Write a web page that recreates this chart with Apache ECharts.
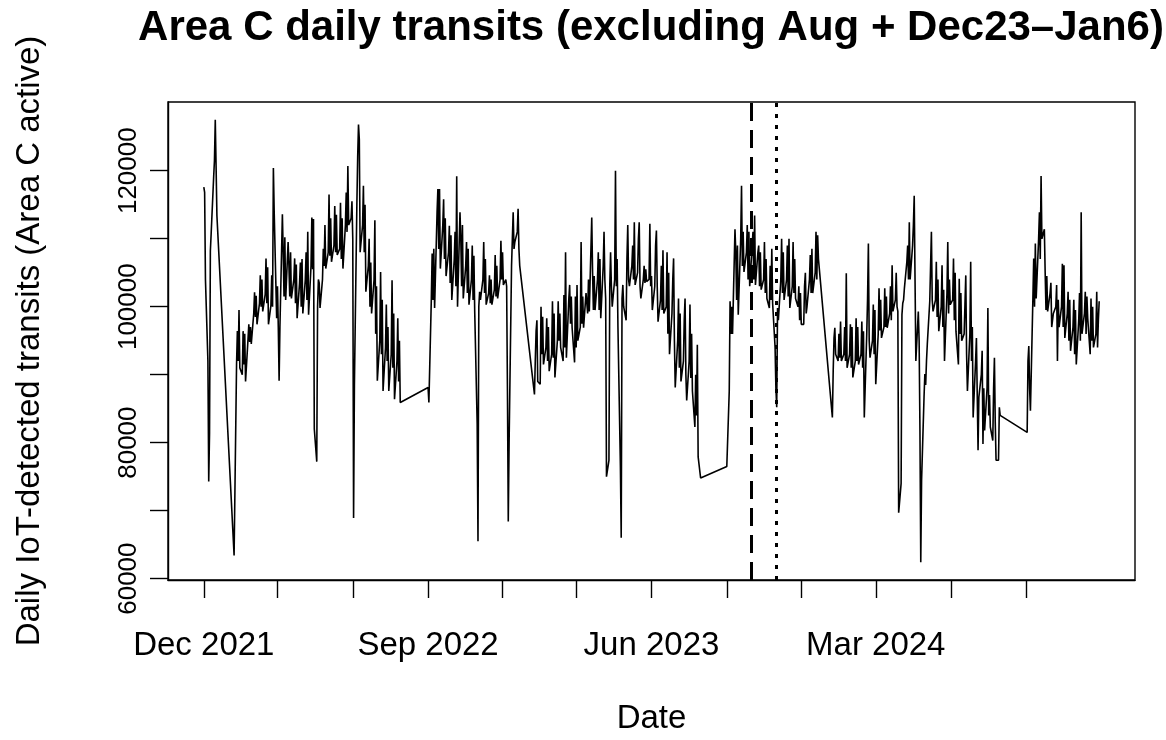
<!DOCTYPE html>
<html>
<head>
<meta charset="utf-8">
<title>Area C daily transits</title>
<script src="https://cdn.jsdelivr.net/npm/echarts@6/dist/echarts.min.js"></script>
<style>
  html, body { margin: 0; padding: 0; background: #ffffff; }
  #chart { width: 1166px; height: 740px; }
</style>
</head>
<body>
<div id="chart"></div>
<script>
// Daily IoT-detected transits (thousands), Area C active weekdays.
// Each run is a contiguous stretch of weekdays; August and Dec 23 - Jan 6 are left out.
const runStarts = ['2021-12-01', '2022-01-07', '2022-09-01', '2023-01-09', '2023-09-01', '2024-01-08', '2024-09-02'];

const run2021Dec = [117.6, 116.8, 104.0, 92.0, 74.3, 81.5, 108.2, 110.8, 119.0, 121.5, 127.5, 120.6, 113.4];

const run2022H1 = [63.4,
  91.5, 96.4, 92.0, 99.5, 91.0,  90.0, 96.4, 91.5, 96.0, 89.0,  95.2, 97.4, 94.8, 97.0, 94.5,
  99.0, 102.1, 98.5, 101.6, 97.4,  100.5, 104.6, 100.0, 104.0, 99.3,  101.8, 107.1, 100.5, 105.8, 97.4,
  100.2, 104.6, 100.0, 120.4, 113.9,  98.3, 103.0, 97.0, 89.1, 97.0,  113.6, 108.0, 101.5, 110.2, 101.0,
  109.5, 106.0, 101.5, 108.0, 101.2,  104.0, 107.1, 100.5, 106.2, 98.3,  103.5, 106.5, 100.0, 107.0, 99.0,
  104.0, 108.0, 101.0, 111.0, 98.8,  106.0, 113.1, 105.5, 112.9, 82.0,  77.2, 100.0, 104.0, 103.5, 99.8,
  104.0, 108.5, 106.0, 112.0, 105.6,  108.0, 116.5, 107.5, 113.0, 106.6,  109.0, 114.8, 108.0, 113.5, 107.6,
  108.5, 115.3, 107.0, 113.0, 105.6,  112.0, 116.8, 111.0, 120.7, 112.0,  113.0, 115.5, 110.0, 68.9, 88.5,
  115.0, 122.0, 126.8, 124.6, 108.0,  112.0, 117.8, 108.0, 115.0, 102.2,  106.0, 110.0, 100.0, 106.5, 99.0,
  104.0, 112.7, 96.0, 103.0, 89.1,  95.0, 105.1, 93.0, 101.0, 87.6,  94.0, 100.3, 92.0, 97.0, 87.6,
  93.0, 103.9, 91.0, 99.0, 86.4,  92.0, 98.3, 89.0, 95.0, 85.9];

const run2022H2 = [88.1, 85.9,
  101.2, 107.8, 101.0, 108.5, 99.8,  113.9, 117.3, 108.5, 117.3, 105.6,  112.0, 115.8, 107.0, 113.0, 104.5,
  108.0, 111.9, 103.5, 110.5, 101.0,  107.0, 111.0, 103.0, 119.2, 100.0,  113.9, 110.0, 103.0, 112.0, 101.2,
  106.0, 109.5, 102.0, 108.5, 100.3,  104.0, 109.0, 101.0, 107.5, 99.3,  82.8, 65.5, 100.0, 102.2, 101.0,
  104.0, 109.5, 102.0, 107.0, 100.3,  102.0, 104.6, 100.5, 104.0, 100.3,  102.5, 107.6, 101.5, 106.0, 101.2,
  104.0, 109.7, 104.0, 108.0, 103.2,  104.0, 103.0, 87.6, 68.4, 80.0,  106.0, 110.0, 113.9, 108.5, 109.5,
  111.0, 114.4, 108.5, 106.0];

const run2023H1 = [
  87.1, 92.0, 96.4, 98.0, 89.0,  88.6, 100.0, 93.0, 98.5, 91.5,  94.0, 98.3, 92.0, 97.0, 90.5,
  93.0, 100.8, 92.5, 99.0, 89.6,  95.0, 100.8, 95.0, 99.0, 94.0,  92.0, 101.7, 94.0, 108.0, 92.5,
  101.2, 103.2, 97.5, 101.5, 96.9,  91.8, 101.5, 94.0, 103.2, 95.0,  97.0, 109.5, 97.5, 101.5, 96.9,
  102.0, 102.2, 99.0, 104.0, 99.3,  113.1, 105.1, 99.5, 104.5, 99.5,  104.0, 108.0, 99.5, 107.0, 98.3,
  106.0, 111.0, 104.0, 101.2, 75.0,  77.4, 103.0, 108.0, 103.0, 100.0,  104.0, 120.0, 103.0, 107.0, 97.0,
  76.5, 66.0, 101.2, 103.2, 100.0,  98.0, 107.0, 112.0, 104.0, 103.0,  106.0, 109.0, 104.0, 112.4, 103.2,
  105.0, 110.0, 112.4, 103.0, 101.2,  104.0, 106.0, 103.5, 105.5, 103.7,  104.0, 112.2, 103.0, 104.5, 99.5,
  103.0, 109.0, 111.2, 103.0, 97.8,  101.0, 106.0, 99.5, 108.3, 99.0,  100.0, 108.0, 96.0, 105.0, 93.0,
  99.0, 104.0, 107.1, 95.0, 88.1,  95.0, 101.2, 91.0, 99.0, 89.0,  92.0, 98.0, 101.2, 90.0, 86.2,
  92.0, 100.3, 89.5, 96.0, 87.6,  82.3, 90.0, 84.0, 94.4, 77.9,  74.8];

const run2023H2 = [76.5,
  87.6, 100.8, 96.0, 100.0, 96.0,  111.4, 108.0, 101.0, 109.0, 98.8,  110.0, 117.8, 106.0, 111.0, 105.1,
  108.0, 112.0, 104.0, 111.0, 103.0,  109.0, 111.0, 104.0, 113.4, 103.2,  108.0, 109.0, 103.0, 108.0, 102.5,
  104.0, 109.5, 102.0, 107.0, 101.2,  99.8, 106.0, 101.0, 108.5, 100.5,  94.0, 88.0, 85.2, 99.8, 98.0,
  104.0, 110.0, 102.0, 108.0, 101.0,  104.0, 109.0, 101.5, 110.0, 99.8,  103.0, 109.5, 102.0, 107.0, 101.2,
  100.0, 103.0, 98.0, 102.0, 97.4,  97.4, 103.0, 105.0, 99.0, 100.0,  104.0, 107.6, 102.0, 108.5, 102.0,
  105.0, 111.0, 104.0, 110.5, 107.0];

const run2024H1 = [
  83.7, 90.5, 95.4, 96.9, 93.0,  92.0, 96.0, 92.5, 97.8, 92.0,  93.0, 97.0, 92.0, 104.9, 91.0,
  93.0, 97.4, 91.0, 97.0, 89.6,  92.0, 98.3, 92.0, 97.0, 91.5,  93.0, 97.8, 91.0, 96.4, 83.7,
  96.0, 101.2, 109.3, 95.0, 92.5,  95.0, 100.3, 93.0, 99.5, 88.6,  96.0, 102.7, 96.5, 101.0, 95.4,
  97.0, 102.7, 97.0, 101.5, 96.9,  99.0, 103.0, 98.0, 106.1, 99.3,  101.0, 105.0, 100.0, 99.3, 69.7,
  74.0, 98.8, 100.5, 101.0, 102.7,  106.6, 109.0, 104.0, 112.4, 104.0,  109.0, 112.0, 116.3, 104.0, 92.0,
  99.3, 95.0, 81.8, 62.4, 74.5,  86.7, 90.1, 88.5, 92.0, 94.5,  100.8, 106.0, 111.0, 101.0, 99.3,
  101.0, 106.6, 98.5, 104.0, 96.4,  100.0, 106.1, 97.0, 102.5, 92.0,  102.0, 109.5, 99.0, 104.0, 100.3,
  101.0, 107.1, 98.0, 105.0, 96.4,  91.5, 104.1, 96.0, 102.0, 95.0,  96.0, 100.3, 104.6, 93.0, 87.6,
  96.0, 106.6, 92.0, 97.0, 83.7,  92.0, 95.4, 87.0, 78.9, 86.7,  90.0, 93.5, 79.8, 88.0, 81.8,
  88.0, 99.8, 84.0, 87.0, 82.3,  80.3, 88.0, 92.5, 83.0, 77.4,  77.4, 85.2, 84.0];

const run2024H2 = [
  81.5, 92.0, 94.2, 88.0, 84.7,  101.2, 107.1, 100.0, 109.3, 101.2,  110.0, 113.9, 107.0, 119.2, 110.0,
  111.4, 105.0, 99.5, 104.5, 99.3,  102.0, 103.5, 97.0, 96.9, 99.0,  100.0, 103.2, 92.0, 101.0, 97.0,
  100.0, 106.3, 97.0, 106.1, 95.4,  99.0, 102.2, 95.0, 101.0, 93.5,  97.0, 101.0, 93.0, 99.5, 91.5,
  98.0, 102.0, 95.0, 113.9, 96.0,  99.0, 102.2, 96.0, 101.5, 98.3,  93.0, 101.2, 95.0, 100.0, 94.0,
  96.0, 102.2, 94.0, 98.0, 100.8];

const runs = [run2021Dec, run2022H1, run2022H2, run2023H1, run2023H2, run2024H1, run2024H2];

// Reference lines: dashed and dotted verticals
const eventDates = ['2023-10-01', '2023-10-31'];

// Axis ticks: quarterly date ticks, labels on every third one; y ticks every 10000
const xTickDates = ['2021-12-01', '2022-03-01', '2022-06-01', '2022-09-01', '2022-12-01', '2023-03-01',
  '2023-06-01', '2023-09-01', '2023-12-01', '2024-03-01', '2024-06-01', '2024-09-01'];
const xLabelDates = ['2021-12-01', '2022-09-01', '2023-06-01', '2024-03-01'];
const yTickValues = [60000, 70000, 80000, 90000, 100000, 110000, 120000];
const yLabelValues = [60000, 80000, 100000, 120000];

const MONTHS = ['Jan', 'Feb', 'Mar', 'Apr', 'May', 'Jun', 'Jul', 'Aug', 'Sep', 'Oct', 'Nov', 'Dec'];
const FONT = '"Liberation Sans", Arial, sans-serif';

function parseDay(s) {
  const [y, m, d] = s.split('-').map(Number);
  return new Date(y, m - 1, d);
}

// Successive weekdays (Mon-Fri) starting from a given date
function weekdays(startStr, n) {
  const out = [];
  const d = parseDay(startStr);
  while (out.length < n) {
    const wd = d.getDay();
    if (wd !== 0 && wd !== 6) out.push(d.getTime());
    d.setDate(d.getDate() + 1);
  }
  return out;
}

const points = [];
runs.forEach((vals, i) => {
  const days = weekdays(runStarts[i], vals.length);
  vals.forEach((v, j) => points.push([days[j], Math.round(v * 1000)]));
});

// Plot limits padded by 4% of the data range on each side
const xs = points.map(p => p[0]);
const ys = points.map(p => p[1]);
const xMin0 = Math.min(...xs), xMax0 = Math.max(...xs);
const yMin0 = Math.min(...ys), yMax0 = Math.max(...ys);
const xPad = (xMax0 - xMin0) * 0.04;
const yPad = (yMax0 - yMin0) * 0.04;

const chart = echarts.init(document.getElementById('chart'), null, { renderer: 'canvas' });

chart.setOption({
  animation: false,
  backgroundColor: '#ffffff',
  title: {
    text: 'Area C daily transits (excluding Aug + Dec23\u2013Jan6)',
    left: 646,
    top: 2,
    textAlign: 'center',
    textStyle: { fontFamily: FONT, fontSize: 42, fontWeight: 'bold', color: '#000' }
  },
  grid: {
    left: 168, right: 31, top: 102, bottom: 157,
    show: true, borderColor: '#000', borderWidth: 1.4, backgroundColor: 'transparent'
  },
  xAxis: {
    type: 'value',
    min: xMin0 - xPad,
    max: xMax0 + xPad,
    scale: true,
    name: 'Date',
    nameLocation: 'middle',
    nameGap: 122,
    nameTextStyle: { fontFamily: FONT, fontSize: 33, color: '#000' },
    axisLine: { show: true, lineStyle: { color: '#000', width: 1.4 } },
    axisTick: {
      show: true, length: 18, inside: false,
      lineStyle: { color: '#000', width: 1.4 },
      customValues: xTickDates.map(s => parseDay(s).getTime())
    },
    axisLabel: {
      show: true,
      margin: 49,
      fontFamily: FONT, fontSize: 33, color: '#000',
      customValues: xLabelDates.map(s => parseDay(s).getTime()),
      formatter: v => { const d = new Date(v); return MONTHS[d.getMonth()] + ' ' + d.getFullYear(); }
    },
    splitLine: { show: false },
    minorTick: { show: false }
  },
  yAxis: {
    type: 'value',
    min: yMin0 - yPad,
    max: yMax0 + yPad,
    scale: true,
    name: 'Daily IoT-detected transits (Area C active)',
    nameLocation: 'middle',
    nameRotate: 90,
    nameGap: 122,
    nameTextStyle: { fontFamily: FONT, fontSize: 33, color: '#000' },
    axisLine: { show: true, lineStyle: { color: '#000', width: 1.4 } },
    axisTick: {
      show: true, length: 18, inside: false,
      lineStyle: { color: '#000', width: 1.4 },
      customValues: yTickValues
    },
    axisLabel: {
      show: true,
      rotate: 90,
      margin: 26,
      fontFamily: FONT, fontSize: 26, color: '#000',
      customValues: yLabelValues,
      formatter: v => String(v)
    },
    splitLine: { show: false }
  },
  series: [{
    type: 'line',
    data: points,
    showSymbol: false,
    symbol: 'none',
    sampling: null,
    lineStyle: { color: '#000', width: 1.6 },
    silent: true,
    markLine: {
      silent: true,
      symbol: 'none',
      label: { show: false },
      data: [
        { xAxis: parseDay(eventDates[0]).getTime(), lineStyle: { color: '#000', width: 3, type: [18, 9] } },
        { xAxis: parseDay(eventDates[1]).getTime(), lineStyle: { color: '#000', width: 3, type: [4, 7] } }
      ]
    }
  }]
});
</script>
</body>
</html>
